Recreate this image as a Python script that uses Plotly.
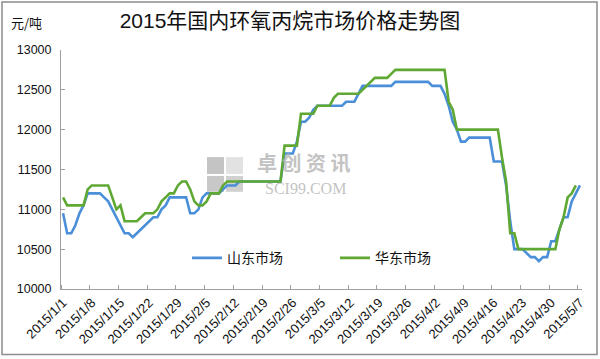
import pandas as pd
import plotly.graph_objects as go

# ---------------- data ----------------
dates = pd.date_range("2015-01-01", "2015-05-07", freq="D")  # daily categories (127 days)

shandong = [
    # Jan
    10950, 10700, 10700, 10800, 10950, 11050, 11200, 11200, 11200, 11200,
    11150, 11100, 11000, 10900, 10800, 10700, 10700, 10650, 10700, 10750,
    10800, 10850, 10900, 10900, 11000, 11050, 11150, 11150, 11150, 11150,
    11150,
    # Feb
    10950, 10950, 11000, 11150, 11200, 11200, 11200, 11200, 11250, 11300,
    11300, 11300, 11350, 11350, 11350, 11350, 11350, 11350, 11350, 11350,
    11350, 11350, 11350, 11700, 11700, 11700, 11850, 12100,
    # Mar
    12100, 12150, 12250, 12300, 12300, 12300, 12300, 12300, 12300, 12300,
    12350, 12350, 12350, 12450, 12550, 12550, 12550, 12550, 12550, 12550,
    12550, 12550, 12600, 12600, 12600, 12600, 12600, 12600, 12600, 12600,
    12600,
    # Apr
    12550, 12550, 12550, 12450, 12300, 12100, 12000, 11850, 11850, 11900,
    11900, 11900, 11900, 11900, 11900, 11600, 11600, 11600, 11300, 10850,
    10500, 10500, 10500, 10450, 10400, 10400, 10350, 10400, 10400, 10600,
    # May
    10600, 10750, 10900, 10900, 11100, 11200, 11300,
]

huadong = [
    # Jan
    11150, 11050, 11050, 11050, 11050, 11050, 11250, 11300, 11300, 11300,
    11300, 11300, 11150, 11000, 11050, 10850, 10850, 10850, 10850, 10900,
    10950, 10950, 10950, 11000, 11100, 11150, 11200, 11200, 11300, 11350,
    11350,
    # Feb
    11250, 11100, 11050, 11050, 11100, 11200, 11200, 11200, 11300, 11350,
    11350, 11350, 11350, 11350, 11350, 11350, 11350, 11350, 11350, 11350,
    11350, 11350, 11350, 11800, 11800, 11800, 11800, 12200,
    # Mar
    12200, 12200, 12200, 12300, 12300, 12300, 12300, 12400, 12450, 12450,
    12450, 12450, 12450, 12450, 12500, 12550, 12600, 12650, 12650, 12650,
    12650, 12700, 12750, 12750, 12750, 12750, 12750, 12750, 12750, 12750,
    12750,
    # Apr
    12750, 12750, 12750, 12750, 12350, 12250, 12000, 12000, 12000, 12000,
    12000, 12000, 12000, 12000, 12000, 12000, 12000, 11650, 11350, 10700,
    10700, 10500, 10500, 10500, 10500, 10500, 10500, 10500, 10500, 10500,
    # May
    10500, 10750, 10900, 11150, 11200, 11300,
]

series_names = ["山东市场", "华东市场"]
series_colors = ["#4A8FD8", "#5FA834"]

tick_dates = pd.date_range("2015-01-01", periods=19, freq="7D")
tick_labels = ["2015/1/1", "2015/1/8", "2015/1/15", "2015/1/22", "2015/1/29",
               "2015/2/5", "2015/2/12", "2015/2/19", "2015/2/26", "2015/3/5",
               "2015/3/12", "2015/3/19", "2015/3/26", "2015/4/2", "2015/4/9",
               "2015/4/16", "2015/4/23", "2015/4/30", "2015/5/7"]

# ---------------- layout helpers ----------------
W, H = 600, 359
L, R, T, B = 61, 18, 50, 68
PW, PH = W - L - R, H - T - B


def px2x(px):
    return (px - L) / PW


def py2y(py):
    return (H - B - py) / PH


FONT = "Liberation Sans, Arial, Noto Sans CJK SC, sans-serif"
CJK = "Noto Sans CJK SC, sans-serif"

fig = go.Figure()
for name, vals, col in zip(series_names, [shandong, huadong], series_colors):
    fig.add_trace(go.Scatter(
        x=dates, y=vals, name=name, mode="lines",
        line=dict(color=col, width=2.6),
        hoverinfo="skip",
    ))

axis_col = "#a0a0a0"

fig.update_layout(
    width=W, height=H,
    margin=dict(l=L, r=R, t=T, b=B),
    paper_bgcolor="white", plot_bgcolor="white",
    font=dict(family=FONT, color="#111"),
    title=dict(text="2015年国内环氧丙烷市场价格走势图",
               x=290 / W, xanchor="center", y=1 - 21 / H, yanchor="middle",
               font=dict(size=21, family=FONT, color="#111")),
    xaxis=dict(
        type="date",
        range=["2014-12-31 12:00", "2015-05-07 12:00"],
        tickmode="array", tickvals=tick_dates, ticktext=tick_labels,
        tickangle=-45, ticks="", showgrid=False, zeroline=False,
        showline=True, linecolor=axis_col, linewidth=1,
        tickfont=dict(size=13, family=FONT, color="#111"),
        minor=dict(ticks="inside", ticklen=4, tickcolor=axis_col,
                   tick0="2014-12-31 12:00", dtick=7 * 86400000, showgrid=False),
    ),
    yaxis=dict(
        range=[10000, 13000], dtick=500, tick0=10000, tickformat="d",
        ticks="inside", ticklen=4, tickcolor=axis_col,
        showline=True, linecolor=axis_col, linewidth=1,
        showgrid=False, zeroline=False,
        tickfont=dict(size=12.5, family=FONT, color="#111"),
        ticklabelstandoff=6,
    ),
    legend=dict(
        orientation="h", x=px2x(187), xanchor="left", y=py2y(260), yanchor="middle",
        font=dict(size=14, family=CJK, color="#111"),
        bgcolor="rgba(0,0,0,0)", entrywidth=103, entrywidthmode="pixels",
        itemclick=False, itemdoubleclick=False,
    ),
    showlegend=True,
)

# unit label
fig.add_annotation(text="元/吨", xref="paper", yref="paper",
                   x=px2x(9), y=py2y(22), xanchor="left", yanchor="middle",
                   showarrow=False, font=dict(size=13, family=CJK, color="#111"))

# watermark (logo blocks + text)
logo = [
    (207, 158, 224, 175, "#c4c4c4"),
    (226, 158, 243, 175, "#e2e2e2"),
    (207, 177, 224, 193, "#c8c8c8"),
    (226, 177, 243, 193, "#d0d0d0"),
]
for x0, y0, x1, y1, c in logo:
    fig.add_shape(type="rect", xref="paper", yref="paper",
                  x0=px2x(x0), x1=px2x(x1), y0=py2y(y0), y1=py2y(y1),
                  fillcolor=c, line=dict(width=0), layer="below")
fig.add_annotation(text="<b>卓 创 资 讯</b>", xref="paper", yref="paper",
                   x=px2x(304), y=py2y(163), xanchor="center", yanchor="middle",
                   showarrow=False, opacity=0.75,
                   font=dict(size=20, family=CJK, color="#b0b0b0"))
fig.add_annotation(text="SCI99.COM", xref="paper", yref="paper",
                   x=px2x(305), y=py2y(190), xanchor="center", yanchor="middle",
                   showarrow=False, opacity=0.75,
                   font=dict(size=16, family="Liberation Serif, serif", color="#b0b0b0"))

# outer frame
fig.add_shape(type="rect", xref="paper", yref="paper",
              x0=px2x(2), x1=px2x(597), y0=py2y(357), y1=py2y(1.5),
              line=dict(color="#8c8c8c", width=1.5), fillcolor="rgba(0,0,0,0)")

fig.write_html("out.html")
